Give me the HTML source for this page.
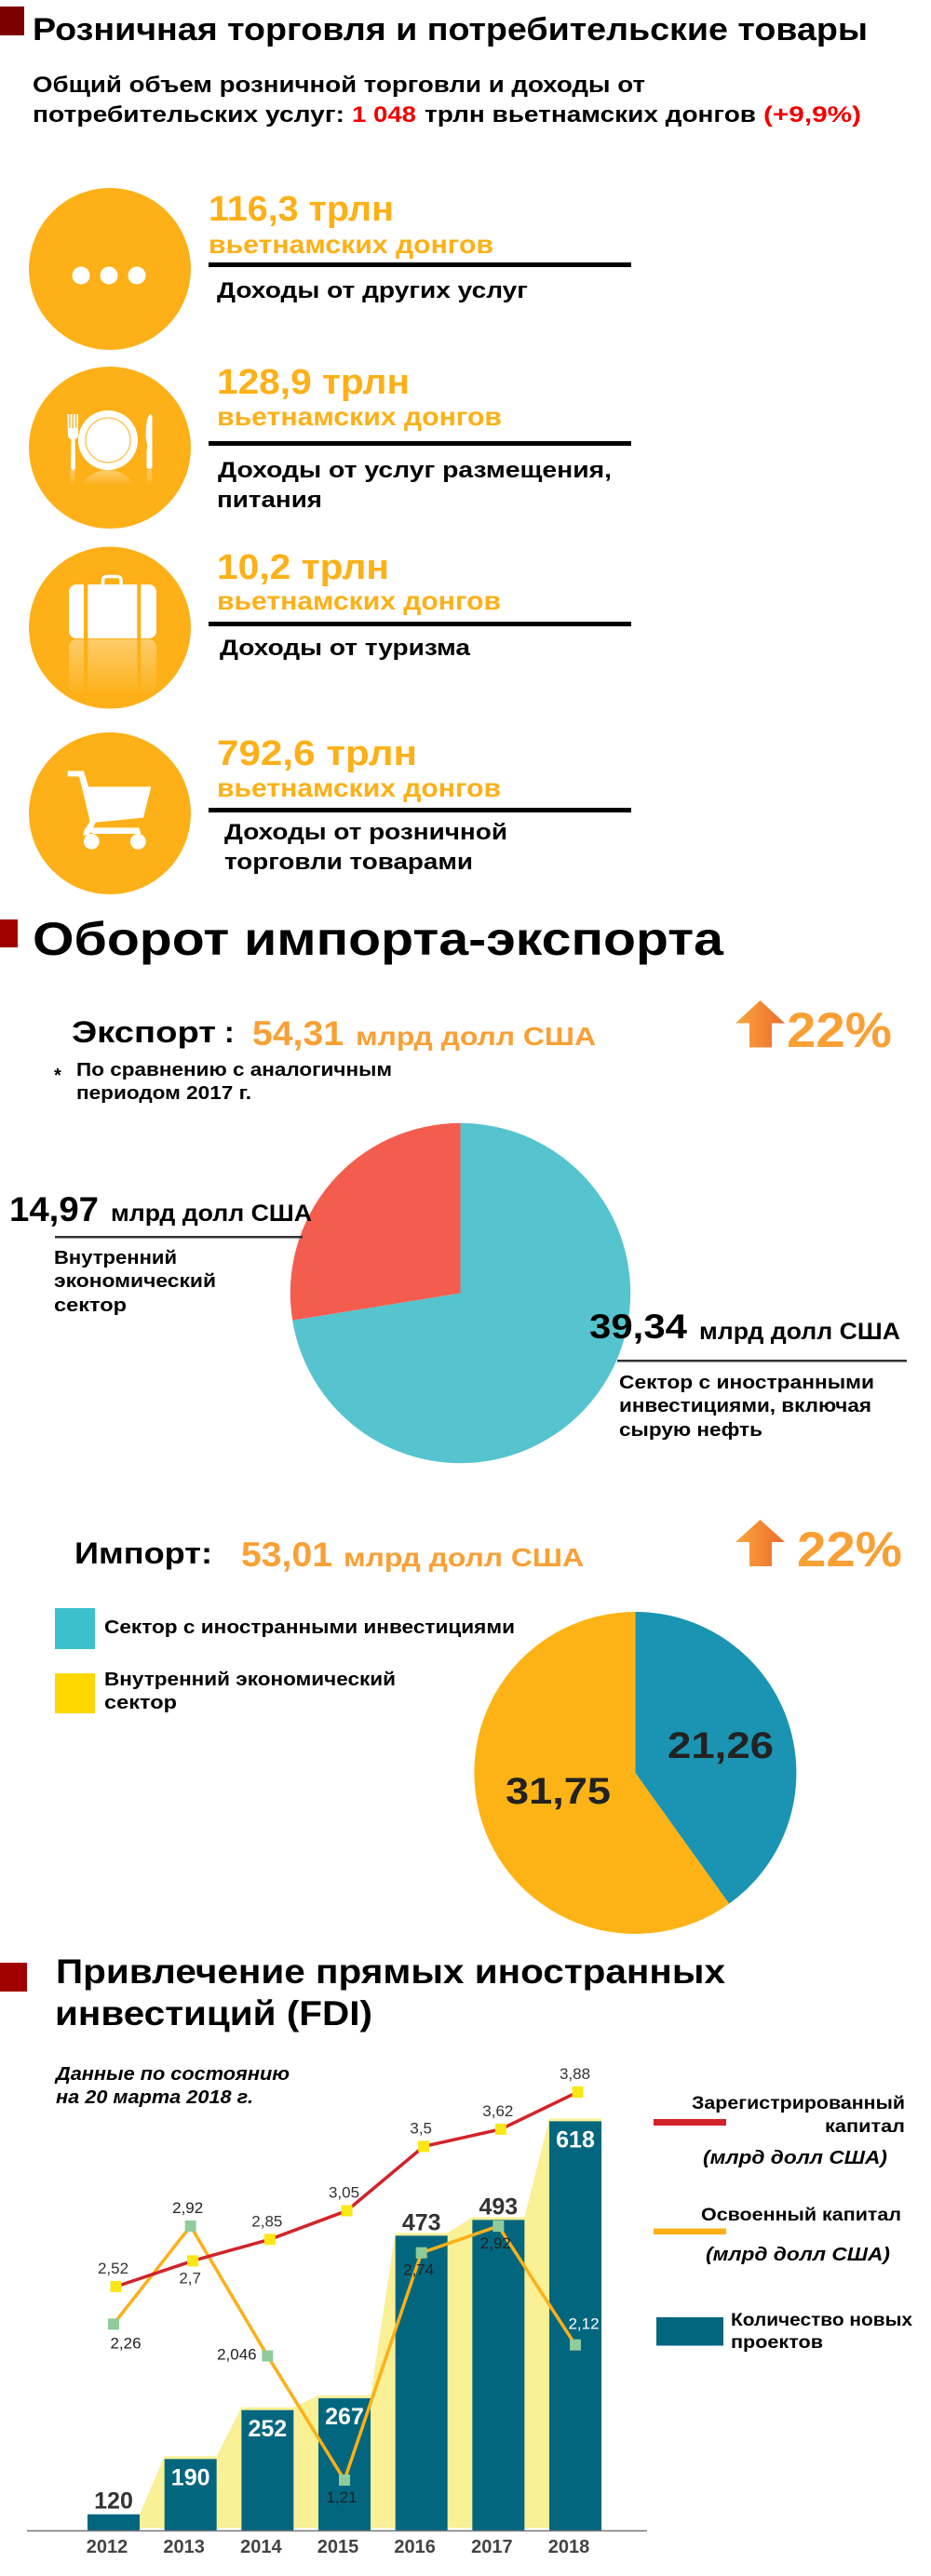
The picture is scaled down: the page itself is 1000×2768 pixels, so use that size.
<!DOCTYPE html>
<html lang="ru">
<head>
<meta charset="utf-8">
<title>Розничная торговля, импорт-экспорт и FDI</title>
<style>
html,body{margin:0;padding:0;background:#fff;}
svg{display:block;}
text{font-family:"Liberation Sans","Noto Sans CJK SC",sans-serif;font-weight:700;fill:#000;}
.o{fill:#fdb017;}
.a{fill:#f9a035;}
.r{fill:#f00000;}
.n{font-size:20px;}
.it{font-style:italic;}
</style>
</head>
<body>
<svg xmlns="http://www.w3.org/2000/svg" width="1000" height="2768" viewBox="0 0 1000 2768">
<defs>
<linearGradient id="arrowGrad" x1="0" x2="1" y1="0" y2="0"><stop offset="0" stop-color="#f8a83c"/><stop offset="1" stop-color="#ee6a2e"/></linearGradient>
<linearGradient id="fadeSuit" x1="0" x2="0" y1="0" y2="1"><stop offset="0" stop-color="#fff" stop-opacity=".36"/><stop offset="1" stop-color="#fff" stop-opacity=".03"/></linearGradient>
<linearGradient id="fadePlate" gradientUnits="userSpaceOnUse" x1="0" x2="0" y1="505" y2="522"><stop offset="0" stop-color="#fff" stop-opacity=".38"/><stop offset="1" stop-color="#fff" stop-opacity="0"/></linearGradient>
<clipPath id="plateClip"><rect x="70" y="505" width="100" height="18"/></clipPath>
</defs>

<!-- SECTION 1 -->
<rect x="0" y="7" width="26" height="31" fill="#7d0000"/>
<text x="35" y="43" font-size="34" textLength="897" lengthAdjust="spacingAndGlyphs">Розничная торговля и потребительские товары</text>
<text x="35" y="99" font-size="24" textLength="658" lengthAdjust="spacingAndGlyphs">Общий объем розничной торговли и доходы от</text>
<text x="35" y="131" font-size="24" textLength="335" lengthAdjust="spacingAndGlyphs">потребительских услуг:</text>
<text x="378" y="131" font-size="24" class="r" textLength="69" lengthAdjust="spacingAndGlyphs">1 048</text>
<text x="456" y="131" font-size="24" textLength="356" lengthAdjust="spacingAndGlyphs">трлн вьетнамских донгов</text>
<text x="820" y="131" font-size="24" class="r" textLength="105" lengthAdjust="spacingAndGlyphs">(+9,9%)</text>

<!-- item 1 -->
<g>
<circle cx="118" cy="289" r="87" fill="#fdb017"/>
<circle cx="87" cy="296" r="9.5" fill="#fff"/>
<circle cx="117" cy="296" r="9.5" fill="#fff"/>
<circle cx="147" cy="296" r="9.5" fill="#fff"/>
</g>
<text x="224" y="237" font-size="38" class="o" textLength="199" lengthAdjust="spacingAndGlyphs">116,3 трлн</text>
<text x="224" y="272" font-size="28" class="o" textLength="306" lengthAdjust="spacingAndGlyphs">вьетнамских донгов</text>
<rect x="224" y="282" width="454" height="5" fill="#000"/>
<text x="233" y="320" font-size="24" textLength="334" lengthAdjust="spacingAndGlyphs">Доходы от других услуг</text>

<!-- item 2 -->
<g>
<circle cx="118" cy="481" r="87" fill="#fdb017"/>
<circle cx="116" cy="473" r="32" fill="#fff"/>
<circle cx="116" cy="473" r="24" fill="none" stroke="#fdb017" stroke-width="1"/>
<path d="M72.300 445h2v15h1.300v-15h2v15h1.300v-15h2v15h1.300v-15h1.800v22q0 4-3.500 5l.5 30q0 3-2.500 3t-2.500-3l.5-30q-3.500-1-3.500-5z" fill="#fff"/>
<path d="M161 445q2.500 0 2.500 3v53q0 3-3 3t-3-3v-17q1.500-4-.5-11-.8-4-.3-9 .5-15 4.300-19z" fill="#fff"/>
<circle cx="116" cy="537" r="32" fill="url(#fadePlate)" clip-path="url(#plateClip)"/>
<rect x="75.500" y="505" width="5" height="16" fill="url(#fadePlate)"/>
<rect x="158" y="505" width="5" height="16" fill="url(#fadePlate)"/>
</g>
<text x="233" y="423" font-size="38" class="o" textLength="207" lengthAdjust="spacingAndGlyphs">128,9 трлн</text>
<text x="233" y="457" font-size="28" class="o" textLength="306" lengthAdjust="spacingAndGlyphs">вьетнамских донгов</text>
<rect x="224" y="474" width="454" height="5" fill="#000"/>
<text x="234" y="513" font-size="24" textLength="423" lengthAdjust="spacingAndGlyphs">Доходы от услуг размещения,</text>
<text x="233" y="545" font-size="24" textLength="113" lengthAdjust="spacingAndGlyphs">питания</text>

<!-- item 3 -->
<g>
<circle cx="118" cy="674.500" r="87" fill="#fdb017"/>
<rect x="110.500" y="619.500" width="19.500" height="13" rx="4" fill="none" stroke="#fff" stroke-width="3.500"/>
<rect x="74" y="628" width="94" height="58" rx="8" fill="#fff"/>
<rect x="74" y="687" width="94" height="57" rx="8" fill="url(#fadeSuit)"/>
<rect x="90" y="628" width="4.300" height="116" fill="#fdb017"/>
<rect x="147.300" y="628" width="4" height="116" fill="#fdb017"/>
</g>
<text x="233" y="622" font-size="38" class="o" textLength="185" lengthAdjust="spacingAndGlyphs">10,2 трлн</text>
<text x="233" y="655" font-size="28" class="o" textLength="305" lengthAdjust="spacingAndGlyphs">вьетнамских донгов</text>
<rect x="224" y="668" width="454" height="5" fill="#000"/>
<text x="236" y="704" font-size="24" textLength="269" lengthAdjust="spacingAndGlyphs">Доходы от туризма</text>

<!-- item 4 -->
<g>
<circle cx="118" cy="874" r="87" fill="#fdb017"/>
<g transform="translate(30,786) scale(.33333)">
<path d="M128 127H180L195 178H397L372 278L218 293L210 310H358L364 330H212L200 325L195 335L178 335L182 318L200 290L165 145H128Z" fill="#fff"/>
<circle cx="205" cy="355" r="25" fill="#fff"/>
<circle cx="355" cy="355" r="25" fill="#fff"/>
</g>
</g>
<text x="233" y="822" font-size="38" class="o" textLength="215" lengthAdjust="spacingAndGlyphs">792,6 трлн</text>
<text x="233" y="856" font-size="28" class="o" textLength="305" lengthAdjust="spacingAndGlyphs">вьетнамских донгов</text>
<rect x="224" y="868" width="454" height="5" fill="#000"/>
<text x="241" y="902" font-size="24" textLength="304" lengthAdjust="spacingAndGlyphs">Доходы от розничной</text>
<text x="241" y="934" font-size="24" textLength="267" lengthAdjust="spacingAndGlyphs">торговли товарами</text>

<!-- SECTION 2 -->
<rect x="0" y="988" width="19" height="30" fill="#a00000"/>
<text x="35" y="1026" font-size="50" textLength="742" lengthAdjust="spacingAndGlyphs">Оборот импорта-экспорта</text>

<g id="exportPie"></g>

<text x="77" y="1120" font-size="32" textLength="155" lengthAdjust="spacingAndGlyphs">Экспорт</text>
<text x="241" y="1120" font-size="32">:</text>
<text x="271" y="1123" font-size="37" class="a" textLength="98" lengthAdjust="spacingAndGlyphs">54,31</text>
<text x="382" y="1123" font-size="28" class="a" textLength="258" lengthAdjust="spacingAndGlyphs">млрд долл США</text>
<path d="M816.500 1075L843 1099.500H829V1125.500H805V1099.500H790Z" fill="url(#arrowGrad)"/>
<text x="845" y="1125" font-size="53" class="a" textLength="113" lengthAdjust="spacingAndGlyphs">22%</text>
<text x="58" y="1162" font-size="20" fill="#333">*</text>
<text x="82" y="1156" class="n" textLength="339" lengthAdjust="spacingAndGlyphs">По сравнению с аналогичным</text>
<text x="82" y="1181" class="n" textLength="188" lengthAdjust="spacingAndGlyphs">периодом 2017 г.</text>

<text x="10" y="1312" font-size="37" textLength="96" lengthAdjust="spacingAndGlyphs">14,97</text>
<text x="119" y="1312" font-size="25" textLength="216" lengthAdjust="spacingAndGlyphs">млрд долл США</text>
<rect x="59" y="1328" width="266" height="2.500" fill="#333"/>
<text x="58" y="1358" class="n" textLength="132" lengthAdjust="spacingAndGlyphs">Внутренний</text>
<text x="58" y="1383" class="n" textLength="174" lengthAdjust="spacingAndGlyphs">экономический</text>
<text x="58" y="1409" class="n" textLength="78" lengthAdjust="spacingAndGlyphs">сектор</text>

<text x="633" y="1438" font-size="37" textLength="105" lengthAdjust="spacingAndGlyphs">39,34</text>
<text x="751" y="1439" font-size="25" textLength="216" lengthAdjust="spacingAndGlyphs">млрд долл США</text>
<rect x="663" y="1461" width="311" height="2.500" fill="#333"/>
<text x="665" y="1492" class="n" textLength="274" lengthAdjust="spacingAndGlyphs">Сектор с иностранными</text>
<text x="665" y="1517" class="n" textLength="271" lengthAdjust="spacingAndGlyphs">инвестициями, включая</text>
<text x="665" y="1543" class="n" textLength="154" lengthAdjust="spacingAndGlyphs">сырую нефть</text>

<text x="80" y="1680" font-size="32" textLength="148" lengthAdjust="spacingAndGlyphs">Импорт:</text>
<text x="259" y="1683" font-size="37" class="a" textLength="98" lengthAdjust="spacingAndGlyphs">53,01</text>
<text x="369" y="1683" font-size="28" class="a" textLength="258" lengthAdjust="spacingAndGlyphs">млрд долл США</text>
<path d="M816.500 1633L843 1657H829V1683H805V1657H790Z" fill="url(#arrowGrad)"/>
<text x="856" y="1683" font-size="53" class="a" textLength="113" lengthAdjust="spacingAndGlyphs">22%</text>

<rect x="59" y="1728" width="43" height="44" fill="#3bc0cc"/>
<text x="112" y="1755" class="n" textLength="441" lengthAdjust="spacingAndGlyphs">Сектор с иностранными инвестициями</text>
<rect x="59" y="1798" width="43" height="43" fill="#ffd800"/>
<text x="112" y="1811" class="n" textLength="313" lengthAdjust="spacingAndGlyphs">Внутренний экономический</text>
<text x="112" y="1836" class="n" textLength="78" lengthAdjust="spacingAndGlyphs">сектор</text>

<g id="importPie"></g>
<text x="717" y="1889" font-size="40" style="fill:#222" textLength="114" lengthAdjust="spacingAndGlyphs">21,26</text>
<text x="543" y="1938" font-size="40" style="fill:#222" textLength="113" lengthAdjust="spacingAndGlyphs">31,75</text>

<!-- SECTION 3 -->
<rect x="0" y="2109" width="29" height="31" fill="#a00000"/>
<text x="60" y="2131" font-size="37" textLength="719" lengthAdjust="spacingAndGlyphs">Привлечение прямых иностранных</text>
<text x="59" y="2176" font-size="37" textLength="341" lengthAdjust="spacingAndGlyphs">инвестиций (FDI)</text>
<text x="60" y="2235" font-size="20" class="it" textLength="251" lengthAdjust="spacingAndGlyphs">Данные по состоянию</text>
<text x="60" y="2260" font-size="20" class="it" textLength="212" lengthAdjust="spacingAndGlyphs">на 20 марта 2018 г.</text>

<g id="fdiChart"></g>

<rect x="702" y="2277" width="78" height="7" fill="#d2232a"/>
<text x="743" y="2266" font-size="19" textLength="229" lengthAdjust="spacingAndGlyphs">Зарегистрированный</text>
<text x="886" y="2291" font-size="19" textLength="86" lengthAdjust="spacingAndGlyphs">капитал</text>
<text x="755" y="2325" font-size="20" class="it" textLength="198" lengthAdjust="spacingAndGlyphs">(млрд долл США)</text>
<rect x="702" y="2394.500" width="78" height="6.500" fill="#fdb017"/>
<text x="753" y="2386" font-size="19" textLength="215" lengthAdjust="spacingAndGlyphs">Освоенный капитал</text>
<text x="758" y="2429" font-size="20" class="it" textLength="198" lengthAdjust="spacingAndGlyphs">(млрд долл США)</text>
<rect x="705" y="2490" width="72" height="30.500" fill="#02667f"/>
<text x="785" y="2499" font-size="19" textLength="195" lengthAdjust="spacingAndGlyphs">Количество новых</text>
<text x="785" y="2523" font-size="19" textLength="99" lengthAdjust="spacingAndGlyphs">проектов</text>
</svg>

<script>
// Pie data (billions of USD)
const exportValues = [39.34, 14.97];
const importValues = [21.26, 31.75];

// FDI chart data
const years = ['2012', '2013', '2014', '2015', '2016', '2017', '2018'];
const projectCounts = [120, 190, 252, 267, 473, 493, 618];
const registeredCapital = [2.52, 2.7, 2.85, 3.05, 3.5, 3.62, 3.88];
const disbursedCapital = [2.26, 2.92, 2.046, 1.21, 2.74, 2.92, 2.12];
const projectLabelPlace = ['above', 'inside', 'inside', 'inside', 'above', 'above', 'inside'];
const registeredLabelPlace = ['above', 'below', 'above', 'above', 'above', 'above', 'above'];
const disbursedLabelPlace = ['belowRight', 'above', 'left', 'below', 'below', 'below', 'inverse'];

const NS = 'http://www.w3.org/2000/svg';
function mk(tag, parent, attrs) {
  const el = document.createElementNS(NS, tag);
  for (const k in attrs) el.setAttribute(k, attrs[k]);
  parent.appendChild(el);
  return el;
}

function slicePath(cx, cy, r, a0, a1) {
  const x0 = cx + r * Math.sin(a0), y0 = cy - r * Math.cos(a0);
  const x1 = cx + r * Math.sin(a1), y1 = cy - r * Math.cos(a1);
  const large = a1 - a0 > Math.PI ? 1 : 0;
  return 'M' + cx + ' ' + cy + 'L' + x0 + ' ' + y0 + 'A' + r + ' ' + r + ' 0 ' + large + ' 1 ' + x1 + ' ' + y1 + 'Z';
}
function sliceAngles(values) {
  const total = values.reduce(function (a, b) { return a + b; }, 0);
  let acc = 0;
  return values.map(function (v) {
    const a0 = acc / total * 2 * Math.PI;
    acc += v;
    return [a0, acc / total * 2 * Math.PI];
  });
}

// Export pie
const exportGroup = document.getElementById('exportPie');
const exportAngles = sliceAngles(exportValues);
const exportForeign = mk('path', exportGroup, { d: slicePath(494.5, 1389.5, 182.7, exportAngles[0][0], exportAngles[0][1]), fill: '#56c4cf' });


const exportDomestic = mk('path', exportGroup, { d: slicePath(494.5, 1389.5, 182.7, exportAngles[1][0], exportAngles[1][1]), fill: '#f45d4e' });



// Import pie
const importGroup = document.getElementById('importPie');
const importAngles = sliceAngles(importValues);
const importForeign = mk('path', importGroup, { d: slicePath(682.4, 1905, 173, importAngles[0][0], importAngles[0][1]), fill: '#1a94b2' });


const importDomestic = mk('path', importGroup, { d: slicePath(682.4, 1905, 173, importAngles[1][0], importAngles[1][1]), fill: '#fdb316' });



// FDI axes
const axisY = 2719.5;
function xBand(i) { return 122 + 82.67 * i; }
function yBar(v) { return axisY - (v - 99) * 0.848; }
function yRegistered(v) { return 2457 - (v - 2.52) * 153.7; }
function yDisbursed(v) { return 2392 + (2.92 - v) * 159.6; }
function fmt(v) { return String(v).replace('.', ','); }
const barHalf = 28;
const chart = document.getElementById('fdiChart');

// Pale stepped area behind bars
let areaPts = (xBand(0) + barHalf) + ',' + (axisY - 3);
projectCounts.forEach(function (v, i) {
  if (i === 0) {
    areaPts += ' ' + (xBand(0) + barHalf) + ',' + yBar(v);
    return;
  }
  areaPts += ' ' + (xBand(i) - barHalf) + ',' + (yBar(v) - 3);
  areaPts += ' ' + (xBand(i) + barHalf) + ',' + (yBar(v) - 3);
});
areaPts += ' ' + (xBand(projectCounts.length - 1) + barHalf) + ',' + (axisY - 3);
const area = mk('polygon', chart, { points: areaPts, fill: '#faf096' });



// Bars
projectCounts.forEach(function (v, i) {
  const bar = mk('rect', chart, { x: xBand(i) - barHalf, y: yBar(v), width: barHalf * 2, height: axisY - yBar(v), fill: '#02667f' });
  
  
});

// Axis line
const axis = mk('line', chart, { x1: 29, x2: 695, y1: axisY, y2: axisY, stroke: '#777', 'stroke-width': 1.5 });



// Year tick labels
years.forEach(function (y, i) {
  const t = mk('text', chart, { x: xBand(i) - 7, y: 2743, 'text-anchor': 'middle', 'font-size': 20, style: 'fill:#444' });
  t.textContent = y;
  
  
});

// Bar value labels
projectCounts.forEach(function (v, i) {
  const inside = projectLabelPlace[i] === 'inside';
  const t = mk('text', chart, { x: xBand(i), y: inside ? yBar(v) + 28 : yBar(v) - 6, 'text-anchor': 'middle', 'font-size': 25, style: inside ? 'fill:#fff' : 'fill:#333' });
  t.textContent = String(v);
  
  
});

// Lines
function linePoints(values, yFn, shift) {
  return values.map(function (v, i) { return (xBand(i) + shift) + ',' + yFn(v); }).join(' ');
}
const disbursedLine = mk('polyline', chart, { points: linePoints(disbursedCapital, yDisbursed, 0), fill: 'none', stroke: '#fdb017', 'stroke-width': 3.5 });


const registeredLine = mk('polyline', chart, { points: linePoints(registeredCapital, yRegistered, 2.5), fill: 'none', stroke: '#d2232a', 'stroke-width': 3.5 });



// Markers and labels
const placeOffsets = {
  above: [-3, -14],
  below: [-3, 24],
  belowRight: [13, 26],
  left: [-33, 4],
  inverse: [9, -17]
};
registeredCapital.forEach(function (v, i) {
  const cx = xBand(i) + 2.5, cy = yRegistered(v);
  const m = mk('rect', chart, { x: cx - 6, y: cy - 6, width: 12, height: 12, fill: '#fbe616' });
  
  
  const off = placeOffsets[registeredLabelPlace[i]];
  const t = mk('text', chart, { x: cx + off[0], y: cy + off[1], 'text-anchor': 'middle', 'font-size': 17, style: 'fill:#333;font-weight:400' });
  t.textContent = fmt(v);
  
  
});
disbursedCapital.forEach(function (v, i) {
  const cx = xBand(i), cy = yDisbursed(v);
  const m = mk('rect', chart, { x: cx - 6, y: cy - 6, width: 12, height: 12, fill: '#8fcb9b' });
  
  
  const place = disbursedLabelPlace[i];
  const off = placeOffsets[place];
  const t = mk('text', chart, { x: cx + off[0], y: cy + off[1], 'text-anchor': 'middle', 'font-size': 17, style: (place === 'inverse' ? 'fill:#fff' : 'fill:#222') + ';font-weight:400' });
  t.textContent = fmt(v);
  
  
});
</script>
</body>
</html>
